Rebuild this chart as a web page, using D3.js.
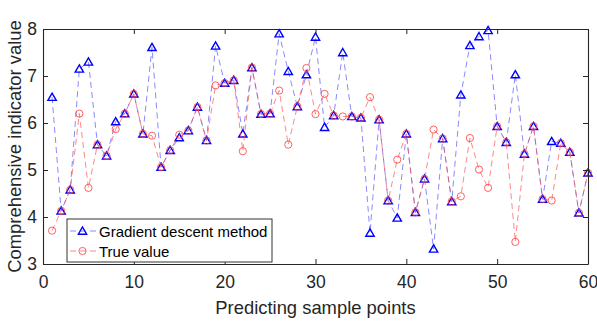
<!DOCTYPE html>
<html>
<head>
<meta charset="utf-8">
<script src="https://cdn.jsdelivr.net/npm/d3@7"></script>
<style>
html,body{margin:0;padding:0;background:#fff;}
svg{display:block;font-family:"Liberation Sans",Arial,sans-serif;}
</style>
</head>
<body>
<svg id="chart" width="597" height="322"></svg>
<script>
const samples = d3.range(1, 61);
const gradientDescent = [6.55,4.13,4.58,7.15,7.30,5.54,5.30,6.03,6.20,6.62,
  5.77,7.61,5.06,5.42,5.69,5.84,6.34,5.63,7.64,6.85,
  6.91,5.77,7.18,6.19,6.20,7.90,7.10,6.35,7.03,7.83,
  5.91,6.16,7.50,6.14,6.11,3.66,6.07,4.35,3.98,5.77,
  4.10,4.81,3.32,5.67,4.33,6.60,7.65,7.84,7.97,5.93,
  5.59,7.03,5.34,5.93,4.38,5.61,5.57,5.38,4.09,4.94];
const trueValue = [3.71,4.13,4.58,6.20,4.62,5.54,5.30,5.87,6.20,6.62,
  5.77,5.73,5.06,5.42,5.75,5.84,6.34,5.63,6.80,6.85,
  6.91,5.40,7.18,6.19,6.20,6.69,5.54,6.35,7.17,6.19,
  6.62,6.16,6.14,6.14,6.11,6.55,6.07,4.35,5.22,5.77,
  4.10,4.81,5.86,5.67,4.33,4.44,5.68,5.01,4.62,5.93,
  5.59,3.47,5.34,5.93,4.38,4.35,5.57,5.38,4.09,4.94];
const xTicks = [0,10,20,30,40,50,60];
const yTicks = [3,4,5,6,7,8];
const seriesNames = ["Gradient descent method","True value"];

const svg = d3.select("#chart");
const L = 43, R = 588, T = 29, B = 264;
const x = d3.scaleLinear().domain([0,60]).range([L,R]);
const y = d3.scaleLinear().domain([3,8]).range([B,T]);
const axisColor = "#262626";

const blueLine = "rgba(60,60,255,0.6)";
const redLine = "rgba(255,70,70,0.65)";
const blueMark = "#0000ff";
const redMark = "rgba(255,60,60,0.8)";

const line = d3.line().x((d,i)=>x(samples[i])).y(d=>y(d));

svg.append("path").datum(gradientDescent).attr("d",line)
  .attr("fill","none").attr("stroke",blueLine).attr("stroke-width",1).attr("stroke-dasharray","6,4");
const tri = d3.symbol().type(d3.symbolTriangle).size(30);
svg.append("g").selectAll("path").data(gradientDescent).join("path")
  .attr("d",tri)
  .attr("transform",(d,i)=>`translate(${x(samples[i])},${y(d)+0.8})`)
  .attr("fill","none").attr("stroke",blueMark).attr("stroke-width",1.4);

svg.append("path").datum(trueValue).attr("d",line)
  .attr("fill","none").attr("stroke",redLine).attr("stroke-width",1).attr("stroke-dasharray","6,4");
svg.append("g").selectAll("circle").data(trueValue).join("circle")
  .attr("cx",(d,i)=>x(samples[i])).attr("cy",d=>y(d)).attr("r",3.6)
  .attr("fill","none").attr("stroke",redMark).attr("stroke-width",1);

// axes
const fs = "17.5px";
const fmt = d3.format("d");
const xb = svg.append("g").attr("transform",`translate(0,${B})`)
  .call(d3.axisBottom(x).tickValues(xTicks).tickFormat(fmt).tickSizeInner(-5).tickSizeOuter(0).tickPadding(12));
const xt = svg.append("g").attr("transform",`translate(0,${T})`)
  .call(d3.axisTop(x).tickValues(xTicks).tickSizeInner(-5).tickSizeOuter(0).tickFormat(""));
const yl = svg.append("g").attr("transform",`translate(${L},0)`)
  .call(d3.axisLeft(y).tickValues(yTicks).tickFormat(fmt).tickSizeInner(-5).tickSizeOuter(0).tickPadding(6));
const yr = svg.append("g").attr("transform",`translate(${R},0)`)
  .call(d3.axisRight(y).tickValues(yTicks).tickSizeInner(-5).tickSizeOuter(0).tickFormat(""));
[xb,xt,yl,yr].forEach(g=>{
  g.select(".domain").attr("stroke",axisColor).attr("stroke-width",1.1);
  g.selectAll(".tick line").attr("stroke",axisColor);
  g.selectAll("text").attr("fill",axisColor).style("font-size",fs).style("font-family","'Liberation Sans',Arial,sans-serif");
});

// titles
svg.append("text").attr("x",(L+R)/2).attr("y",314).attr("text-anchor","middle")
  .attr("fill",axisColor).style("font-size","18.4px").text("Predicting sample points");
svg.append("text").attr("transform",`translate(21,${(T+B)/2}) rotate(-90)`).attr("text-anchor","middle")
  .attr("fill",axisColor).style("font-size","18.4px").text("Comprehensive indicator value");

// legend
const lg = svg.append("g");
lg.append("rect").attr("x",67).attr("y",219).attr("width",205).attr("height",43)
  .attr("fill","#fff").attr("stroke","#333").attr("stroke-width",1);
const legendItems = [
  {name:seriesNames[0], lc:blueLine, type:"tri"},
  {name:seriesNames[1], lc:redLine, type:"circ"}
];
legendItems.forEach((it,k)=>{
  const cy = 231 + k*20;
  lg.append("line").attr("x1",69).attr("x2",96).attr("y1",cy).attr("y2",cy)
    .attr("stroke",it.lc).attr("stroke-width",1).attr("stroke-dasharray","6,4").attr("stroke-dashoffset",-1);
  if(it.type==="tri"){
    lg.append("path").attr("d",tri).attr("transform",`translate(82.5,${cy+0.8})`)
      .attr("fill","none").attr("stroke",blueMark).attr("stroke-width",1.4);
  } else {
    lg.append("circle").attr("cx",82.5).attr("cy",cy).attr("r",3.6)
      .attr("fill","none").attr("stroke",redMark).attr("stroke-width",1);
  }
  lg.append("text").attr("x",99).attr("y",cy+5.5).attr("fill","#000")
    .style("font-size","15px").text(it.name);
});
</script>
</body>
</html>
